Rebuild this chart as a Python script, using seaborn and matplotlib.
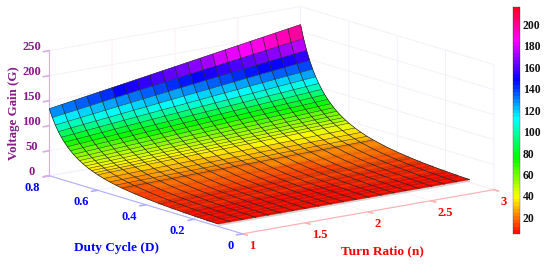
import numpy as np
import seaborn as sns
import matplotlib.pyplot as plt
from matplotlib.colors import ListedColormap, Normalize
from matplotlib.cm import ScalarMappable

turn_ratio = [1.0, 1.1, 1.2, 1.3, 1.4, 1.5, 1.6, 1.7, 1.8, 1.9, 2.0,
              2.1, 2.2, 2.3, 2.4, 2.5, 2.6, 2.7, 2.8, 2.9, 3.0]
duty_cycle = [0.10, 0.15, 0.20, 0.25, 0.30, 0.35, 0.40, 0.45, 0.50, 0.525, 0.55, 0.575,
              0.60, 0.6125, 0.625, 0.6375, 0.65, 0.6625, 0.675, 0.6875, 0.70, 0.7125,
              0.725, 0.7375, 0.75, 0.7625, 0.775, 0.7875, 0.80]
# one row per duty cycle, one column per turn ratio
gain = [
    [4.9, 4.9, 4.9, 5.0, 5.0, 5.0, 5.0, 5.1, 5.1, 5.1, 5.1, 5.2, 5.2, 5.2, 5.2, 5.3, 5.3, 5.3, 5.3, 5.4, 5.4],
    [5.6, 5.7, 5.7, 5.7, 5.8, 5.8, 5.9, 5.9, 6.0, 6.0, 6.0, 6.1, 6.1, 6.2, 6.2, 6.2, 6.3, 6.3, 6.4, 6.4, 6.5],
    [6.5, 6.6, 6.6, 6.7, 6.8, 6.8, 6.9, 6.9, 7.0, 7.1, 7.1, 7.2, 7.3, 7.3, 7.4, 7.4, 7.5, 7.6, 7.6, 7.7, 7.8],
    [7.6, 7.7, 7.8, 7.8, 7.9, 8.0, 8.1, 8.2, 8.3, 8.4, 8.5, 8.5, 8.6, 8.7, 8.8, 8.9, 9.0, 9.1, 9.2, 9.3, 9.3],
    [8.9, 9.0, 9.1, 9.3, 9.4, 9.5, 9.6, 9.8, 9.9, 10.0, 10.1, 10.2, 10.4, 10.5, 10.6, 10.7, 10.9, 11.0, 11.1, 11.2, 11.3],
    [10.6, 10.7, 10.9, 11.1, 11.2, 11.4, 11.6, 11.7, 11.9, 12.0, 12.2, 12.4, 12.5, 12.7, 12.9, 13.0, 13.2, 13.4, 13.5, 13.7, 13.9],
    [12.7, 12.9, 13.1, 13.3, 13.6, 13.8, 14.0, 14.2, 14.4, 14.7, 14.9, 15.1, 15.3, 15.6, 15.8, 16.0, 16.2, 16.4, 16.7, 16.9, 17.1],
    [15.4, 15.7, 16.0, 16.3, 16.6, 16.9, 17.2, 17.5, 17.8, 18.1, 18.4, 18.7, 19.0, 19.3, 19.6, 19.9, 20.2, 20.5, 20.8, 21.1, 21.4],
    [19.0, 19.4, 19.8, 20.2, 20.6, 21.0, 21.4, 21.8, 22.2, 22.6, 23.0, 23.4, 23.8, 24.2, 24.6, 25.0, 25.4, 25.8, 26.2, 26.6, 27.0],
    [21.3, 21.8, 22.3, 22.7, 23.2, 23.6, 24.1, 24.6, 25.0, 25.5, 26.0, 26.4, 26.9, 27.4, 27.8, 28.3, 28.8, 29.2, 29.7, 30.2, 30.6],
    [24.0, 24.5, 25.1, 25.6, 26.2, 26.7, 27.3, 27.8, 28.3, 28.9, 29.4, 30.0, 30.5, 31.1, 31.6, 32.1, 32.7, 33.2, 33.8, 34.3, 34.9],
    [27.2, 27.8, 28.5, 29.1, 29.7, 30.4, 31.0, 31.6, 32.3, 32.9, 33.5, 34.2, 34.8, 35.5, 36.1, 36.7, 37.4, 38.0, 38.6, 39.3, 39.9],
    [31.0, 31.8, 32.5, 33.3, 34.0, 34.8, 35.5, 36.3, 37.0, 37.8, 38.5, 39.3, 40.0, 40.8, 41.5, 42.3, 43.0, 43.8, 44.5, 45.3, 46.0],
    [33.2, 34.0, 34.8, 35.6, 36.5, 37.3, 38.1, 38.9, 39.7, 40.5, 41.4, 42.2, 43.0, 43.8, 44.6, 45.4, 46.2, 47.1, 47.9, 48.7, 49.5],
    [35.6, 36.5, 37.4, 38.3, 39.2, 40.1, 41.0, 41.9, 42.7, 43.6, 44.5, 45.4, 46.3, 47.2, 48.1, 49.0, 49.9, 50.7, 51.6, 52.5, 53.4],
    [38.3, 39.3, 40.3, 41.2, 42.2, 43.2, 44.1, 45.1, 46.1, 47.1, 48.0, 49.0, 50.0, 50.9, 51.9, 52.9, 53.8, 54.8, 55.8, 56.8, 57.7],
    [41.3, 42.4, 43.4, 44.5, 45.6, 46.6, 47.7, 48.7, 49.8, 50.9, 51.9, 53.0, 54.0, 55.1, 56.2, 57.2, 58.3, 59.4, 60.4, 61.5, 62.5],
    [44.6, 45.8, 47.0, 48.1, 49.3, 50.5, 51.6, 52.8, 53.9, 55.1, 56.3, 57.4, 58.6, 59.8, 60.9, 62.1, 63.3, 64.4, 65.6, 66.7, 67.9],
    [48.4, 49.7, 50.9, 52.2, 53.5, 54.8, 56.1, 57.3, 58.6, 59.9, 61.2, 62.4, 63.7, 65.0, 66.3, 67.6, 68.8, 70.1, 71.4, 72.7, 74.0],
    [52.6, 54.0, 55.4, 56.8, 58.2, 59.6, 61.0, 62.4, 63.8, 65.3, 66.7, 68.1, 69.5, 70.9, 72.3, 73.7, 75.1, 76.5, 77.9, 79.3, 80.7],
    [57.3, 58.9, 60.4, 62.0, 63.6, 65.1, 66.7, 68.2, 69.8, 71.3, 72.9, 74.4, 76.0, 77.6, 79.1, 80.7, 82.2, 83.8, 85.3, 86.9, 88.4],
    [62.7, 64.5, 66.2, 67.9, 69.6, 71.3, 73.1, 74.8, 76.5, 78.2, 80.0, 81.7, 83.4, 85.1, 86.9, 88.6, 90.3, 92.0, 93.8, 95.5, 97.2],
    [68.9, 70.8, 72.7, 74.6, 76.6, 78.5, 80.4, 82.3, 84.2, 86.1, 88.1, 90.0, 91.9, 93.8, 95.7, 97.6, 99.6, 101.5, 103.4, 105.3, 107.2],
    [76.0, 78.1, 80.3, 82.4, 84.5, 86.7, 88.8, 91.0, 93.1, 95.2, 97.4, 99.5, 101.7, 103.8, 105.9, 108.1, 110.2, 112.4, 114.5, 116.6, 118.8],
    [84.2, 86.6, 89.0, 91.4, 93.8, 96.2, 98.6, 101.0, 103.4, 105.8, 108.2, 110.6, 113.0, 115.4, 117.8, 120.2, 122.6, 125.0, 127.4, 129.8, 132.2],
    [93.7, 96.4, 99.1, 101.8, 104.5, 107.2, 109.9, 112.6, 115.3, 118.0, 120.7, 123.4, 126.1, 128.8, 131.5, 134.3, 137.0, 139.7, 142.4, 145.1, 147.8],
    [104.9, 108.0, 111.0, 114.1, 117.1, 120.2, 123.3, 126.3, 129.4, 132.4, 135.5, 138.6, 141.6, 144.7, 147.7, 150.8, 153.9, 156.9, 160.0, 163.1, 166.1],
    [118.1, 121.6, 125.1, 128.6, 132.1, 135.6, 139.1, 142.6, 146.0, 149.5, 153.0, 156.5, 160.0, 163.5, 167.0, 170.5, 174.0, 177.4, 180.9, 184.4, 187.9],
    [134, 138, 142, 146, 150, 154, 158, 162, 166, 170, 174, 178, 182, 186, 190, 194, 198, 202, 206, 210, 214],
]
n_ticks = [1, 1.5, 2, 2.5, 3]
n_ticklabels = ['1', '1.5', '2', '2.5', '3']
d_ticks = [0, 0.2, 0.4, 0.6, 0.8]
d_ticklabels = ['0', '0.2', '0.4', '0.6', '0.8']
g_ticks = [0, 50, 100, 150, 200, 250]
cbar_ticks = [20, 40, 60, 80, 100, 120, 140, 160, 180, 200]
cbar_min = 4.6
cbar_max = 216

sns.set_theme(style='white')
plt.rcParams['font.family'] = ['Liberation Serif']
plt.rcParams['font.weight'] = 'bold'

N, D = np.meshgrid(turn_ratio, duty_cycle)
G = np.array(gain)
duty = np.array(duty_cycle)
cmap = ListedColormap(sns.color_palette('hsv', 64))
norm = Normalize(cbar_min, cbar_max)

fig = plt.figure(figsize=(5.5, 2.65), dpi=100)
ax = fig.add_axes([-0.0127, 0.033, 1.0, 1.0], projection='3d', computed_zorder=False)
ax.set_proj_type('ortho')
ax.view_init(elev=13.27, azim=-127.4)
ax.set_box_aspect((316, 318, 128.4), zoom=1.71)
ax.patch.set_alpha(0)

surf = ax.plot_surface(N, D, G, cmap=cmap, norm=norm, rstride=1, cstride=1, linewidth=0.2,
                       shade=False, zorder=2, clip_on=False)
surf.set_edgecolor('face')
# the mesh is so tight at low duty cycle that it just darkens the red
low = duty <= 0.35
ax.plot_wireframe(N[low], D[low], G[low], rstride=1, cstride=0, color='black', linewidth=3.0,
                  alpha=0.16, zorder=2.5, clip_on=False)
mid = (duty > 0.35) & (duty <= 0.5)
ax.plot_wireframe(N[mid], D[mid], G[mid], rstride=1, cstride=0, color='black', linewidth=3.0,
                  alpha=0.08, zorder=2.5, clip_on=False)
ax.plot_wireframe(N, D, G, rstride=0, cstride=1, color='#222222', linewidth=0.5, zorder=3, clip_on=False)
top = duty >= 0.5
ax.plot_wireframe(N[top], D[top], G[top], rstride=1, cstride=0, color='#222222', linewidth=0.35, zorder=3, clip_on=False)

ax.set_xlim(1, 3)
ax.set_ylim(0, 0.8)
ax.set_zlim(0, 250)
ax.set_xticks(n_ticks, n_ticklabels)
ax.set_yticks(d_ticks, d_ticklabels)
ax.set_zticks(g_ticks)

axis_colors = {'x': ('red', '#ffb0b0', '#fef0f0'), 'y': ('blue', '#b0b0ff', '#f0f0fe'), 'z': ('#8a1a8a', '#d8b0e0', '#f6f0f8')}
tick_pads = {'x': -4.7, 'y': -4.5, 'z': -4}
for name, axis in zip('xyz', [ax.xaxis, ax.yaxis, ax.zaxis]):
    text_c, line_c, grid_c = axis_colors[name]
    axis.set_pane_color((1, 1, 1, 0))
    axis.line.set_color(line_c)
    axis.line.set_linewidth(0.8)
    axis._axinfo['grid']['color'] = grid_c
    axis._axinfo['grid']['linewidth'] = 0.7
    axis._axinfo['tick']['color'] = line_c
    axis._axinfo['tick']['inward_factor'] = 0.3
    axis._axinfo['tick']['outward_factor'] = 0.0
    ax.tick_params(axis=name, labelsize=9, labelcolor=text_c, color=line_c, pad=tick_pads[name])

for t in ax.xaxis.get_ticklabels():
    t.set_ha('left')
for t in ax.yaxis.get_ticklabels():
    t.set_ha('right')
for t in ax.zaxis.get_ticklabels():
    t.set_va('baseline')

cax = fig.add_axes([513 / 550, 1 - 234 / 265, 7 / 550, 227 / 265])
cbar = fig.colorbar(ScalarMappable(norm=norm, cmap=cmap), cax=cax, ticks=cbar_ticks)
cbar.outline.set_linewidth(0.2)
cbar.ax.tick_params(labelsize=8.4, length=0, pad=2, labelcolor='#111111')

fig.text(382 / 550, 1 - 251 / 265, 'Turn Ratio (n)', color='red', fontsize=9.6, ha='center', va='center')
fig.text(116 / 550, 1 - 248 / 265, 'Duty Cycle (D)', color='blue', fontsize=9.5, ha='center', va='center')
fig.text(14 / 550, 1 - 113.5 / 265, 'Voltage Gain (G)', color='#8a1a8a', fontsize=9.4, rotation=90, ha='center', va='center')

fig.savefig('out.png', dpi=100)
